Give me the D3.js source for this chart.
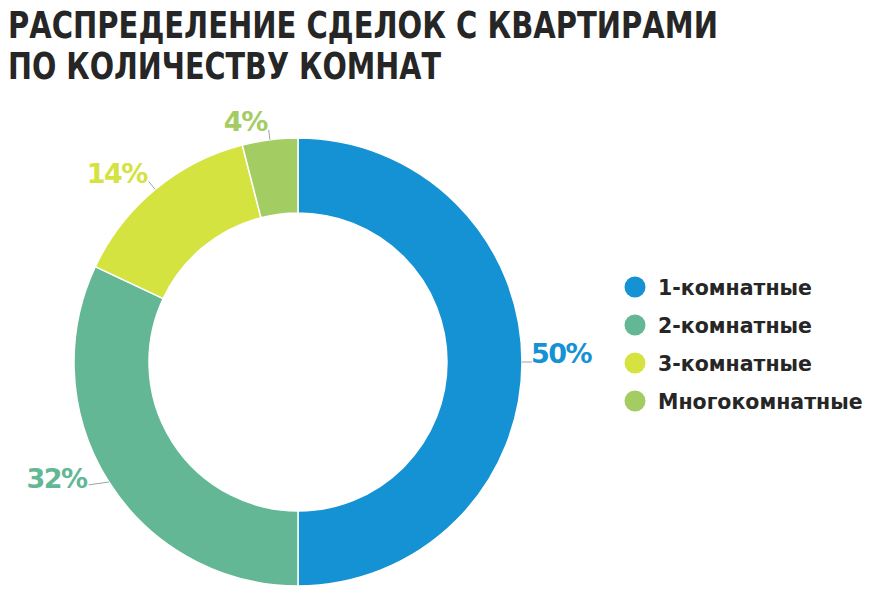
<!DOCTYPE html>
<html><head><meta charset="utf-8">
<script src="https://cdn.jsdelivr.net/npm/d3@7"></script>
<style>html,body{margin:0;padding:0;background:#fff;}svg{display:block;}</style>
</head><body>
<svg id="chart" width="872" height="592"></svg>
<script>
const titleLines = ["РАСПРЕДЕЛЕНИЕ СДЕЛОК С КВАРТИРАМИ", "ПО КОЛИЧЕСТВУ КОМНАТ"];
const categories = ["1-комнатные", "2-комнатные", "3-комнатные", "Многокомнатные"];
const values = [50, 32, 14, 4];
const colors = ["#1592d3", "#63b795", "#d4e33f", "#a3cd63"];

const svg = d3.select("#chart");
const cx = 298, cy = 362, rOuter = 224, rInner = 149;

// Title
const titleFont = "'DejaVu Sans Condensed','DejaVu Sans',sans-serif";
const titleWidths = [710, 433];
const titleBase = [38, 79];
titleLines.forEach((t, i) => {
  svg.append("text")
    .attr("x", 8).attr("y", titleBase[i])
    .attr("font-family", titleFont).attr("font-weight", "bold")
    .attr("font-size", 38).attr("fill", "#262626")
    .attr("textLength", titleWidths[i]).attr("lengthAdjust", "spacingAndGlyphs")
    .text(t);
});

// Donut
const pie = d3.pie().sort(null).value(d => d.v);
const data = categories.map((c, i) => ({ c, v: values[i], color: colors[i] }));
const arcs = pie(data);
const arc = d3.arc().innerRadius(rInner).outerRadius(rOuter);
const g = svg.append("g").attr("transform", `translate(${cx},${cy})`);
g.selectAll("path").data(arcs).join("path")
  .attr("d", arc).attr("fill", d => d.data.color)
  .attr("stroke", "#fff").attr("stroke-width", 1.5);

// Labels with leader lines
const labelFont = "'DejaVu Sans',sans-serif";
arcs.forEach(d => {
  const a = (d.startAngle + d.endAngle) / 2;
  const lower = Math.cos(a) < 0 && Math.sin(a) < 0;
  const len = lower ? 24 : 10;
  const p0 = [Math.sin(a) * rOuter, -Math.cos(a) * rOuter];
  const p1 = [Math.sin(a) * (rOuter + len), -Math.cos(a) * (rOuter + len)];
  const lp = lower ? [p1[0], p1[1] - 10] : p1;
  g.append("line")
    .attr("x1", p0[0]).attr("y1", p0[1]).attr("x2", lp[0]).attr("y2", lp[1])
    .attr("stroke", "#8a8a8a").attr("stroke-width", 0.8);
  const right = Math.sin(a) > 0.01;
  g.append("text")
    .attr("x", right ? lp[0] - 1 : lp[0] - 2)
    .attr("y", lower ? p1[1] - 7 : p1[1] + 1)
    .attr("text-anchor", right ? "start" : "end")
    .attr("font-family", labelFont).attr("font-weight", "bold")
    .attr("font-size", 27).attr("fill", d.data.color)
    .attr("letter-spacing", -1.5)
    .text(d.data.v + "%");
});

// Legend
const legend = svg.append("g");
categories.forEach((c, i) => {
  const y = 287 + i * 38;
  legend.append("circle").attr("cx", 635).attr("cy", y).attr("r", 10.5).attr("fill", colors[i]);
  legend.append("text").attr("x", 658).attr("y", y + 8)
    .attr("font-family", labelFont).attr("font-weight", "bold")
    .attr("font-size", 20.5).attr("fill", "#262626")
    .text(c);
});
</script>
</body></html>
